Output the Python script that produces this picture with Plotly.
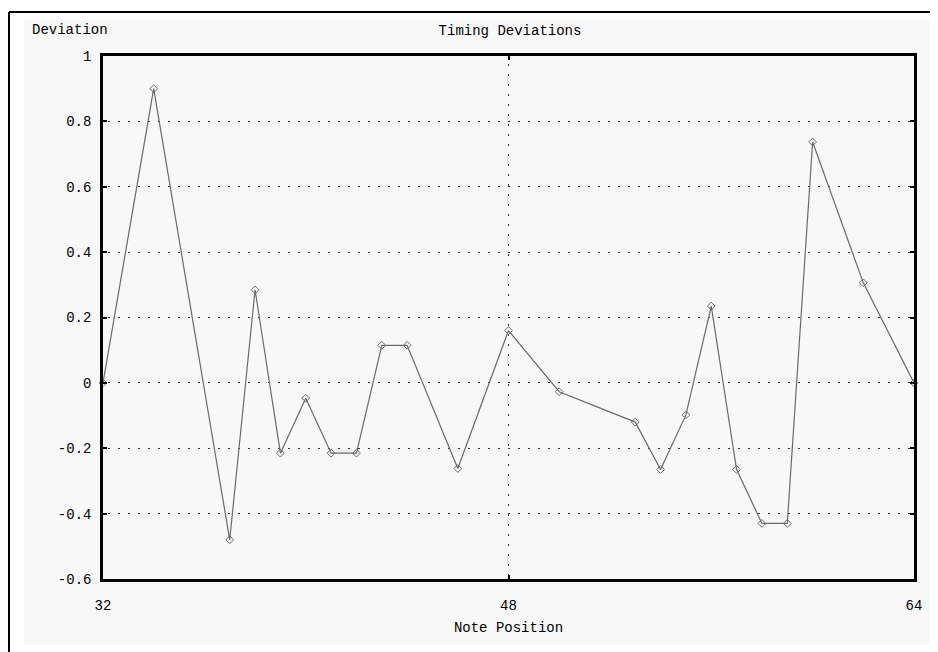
import plotly.graph_objects as go

# ---- data ----
positions = [32, 34, 37, 38, 39, 40, 41, 42, 43, 44, 46, 48, 50, 53, 54, 55, 56, 57, 58, 59, 60, 62, 64]
deviations = [0, 0.9, -0.48, 0.285, -0.215, -0.047, -0.215, -0.215, 0.115, 0.115, -0.262,
              0.16, -0.027, -0.12, -0.265, -0.098, 0.235, -0.265, -0.43, -0.43, 0.737, 0.306, 0]
x_ticks = [32, 48, 64]
y_ticks = [-0.6, -0.4, -0.2, 0, 0.2, 0.4, 0.6, 0.8, 1]
y_tick_labels = ["-0.6", "-0.4", "-0.2", "0", "0.2", "0.4", "0.6", "0.8", "1"]

# ---- layout geometry (page pixels; the page body adds an 8px margin) ----
OFF = 8
W, H = 938 - OFF, 652 - OFF
L, R, T, B = 103 - OFF, 914 - OFF, 56 - OFF, 579 - OFF


def px(x):
    return (x - OFF - L) / (R - L)


def py(y):
    return (B - (y - OFF)) / (B - T)


FONT = "Liberation Mono"
PANEL = "#f8f8f8"

fig = go.Figure()
fig.add_trace(go.Scatter(
    x=positions, y=deviations, mode="lines+markers",
    line=dict(color="#6a6a6a", width=1.2),
    marker=dict(symbol="diamond-open", size=6, color="#6a6a6a", line=dict(width=1)),
    cliponaxis=False, showlegend=False,
))

fig.update_layout(
    width=W, height=H,
    margin=dict(l=L, r=W - R, t=T, b=H - B, pad=0),
    paper_bgcolor="white", plot_bgcolor=PANEL,
    font=dict(family=FONT, size=14, color="black"),
    title=dict(text="Timing Deviations", x=px(510), xref="paper", xanchor="center",
               y=1 - (30.5 - OFF) / H, yref="container", yanchor="middle",
               font=dict(family=FONT, size=14, color="black")),
    shapes=[
        dict(type="rect", xref="paper", yref="paper", x0=px(24), x1=px(931), y0=py(645), y1=py(20),
             fillcolor=PANEL, line=dict(width=0), layer="below"),
        dict(type="line", xref="paper", yref="paper", x0=px(9), x1=px(938), y0=py(12), y1=py(12),
             line=dict(color="black", width=2), layer="above"),
        dict(type="line", xref="paper", yref="paper", x0=px(9), x1=px(9), y0=py(12), y1=py(652),
             line=dict(color="black", width=2), layer="above"),
    ],
    annotations=[
        dict(text="Deviation", xref="paper", yref="paper", x=px(30), y=py(30.5),
             xanchor="left", yanchor="middle", showarrow=False,
             font=dict(family=FONT, size=14, color="black")),
    ],
)

fig.update_xaxes(
    range=[32, 64], tickvals=x_ticks, ticktext=[str(v) for v in x_ticks],
    showline=True, linecolor="black", linewidth=2.5, mirror="ticks",
    ticks="inside", ticklen=4, tickwidth=2, tickcolor="black",
    showgrid=True, gridcolor="#333333", gridwidth=1, griddash="0px,8px,1.5px,0.5px",
    zeroline=False, ticklabelstandoff=11,
    title=dict(text="Note Position", standoff=10, font=dict(family=FONT, size=14, color="black")),
)
fig.update_yaxes(
    range=[-0.6, 1], tickvals=y_ticks, ticktext=y_tick_labels,
    showline=True, linecolor="black", linewidth=2.5, mirror="ticks",
    ticks="inside", ticklen=4, tickwidth=2, tickcolor="black",
    showgrid=True, gridcolor="#333333", gridwidth=1, griddash="0px,5px,1.5px,3.5px",
    zeroline=False, ticklabelstandoff=6,
)

fig.write_html("out.html")
